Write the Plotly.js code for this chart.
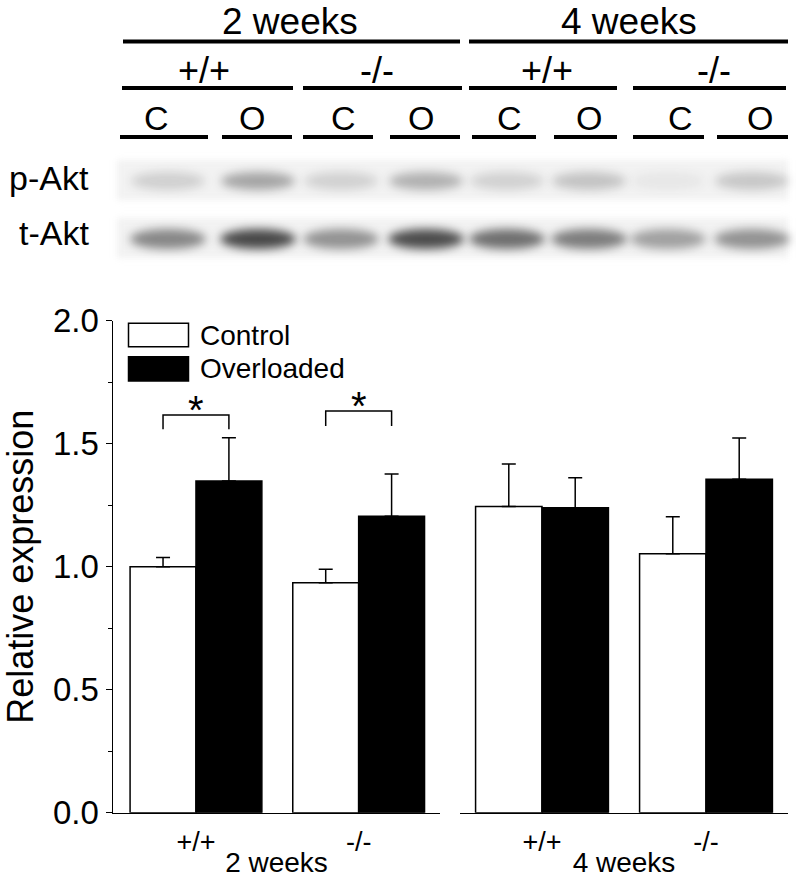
<!DOCTYPE html>
<html>
<head>
<meta charset="utf-8">
<script src="https://cdn.plot.ly/plotly-3.0.1.min.js"></script>
<style>html,body{margin:0;padding:0;background:#fff;}#chart{width:796px;height:878px;}</style>
</head>
<body>
<div id="chart"></div>
<script>
// ---------- data ----------
const genotypes = ['+/+', '-/-'];
const periods = ['2 weeks', '4 weeks'];
const seriesNames = ['Control', 'Overloaded'];
const control2w = [1.0, 0.935];
const control2wErr = [0.037, 0.055];
const overloaded2w = [1.348, 1.205];
const overloaded2wErr = [0.176, 0.172];
const control4w = [1.245, 1.053];
const control4wErr = [0.172, 0.150];
const overloaded4w = [1.240, 1.355];
const overloaded4wErr = [0.122, 0.168];
const yTickVals = [0, 0.5, 1.0, 1.5, 2.0];
const yTickText = ['0.0', '0.5', '1.0', '1.5', '2.0'];
// significance brackets (2 weeks panel): genotype index, bracket top value, leg bottom value
const sigGenotype = [0, 1];
const sigTop = [1.617, 1.633];
const sigLeg = [1.559, 1.572];
const sigLabel = ['*', '*'];
// western blot header
const blotLanes = ['C', 'O', 'C', 'O', 'C', 'O', 'C', 'O'];
const blotRows = ['p-Akt', 't-Akt'];
const pAktIntensity = [0.16, 0.36, 0.15, 0.30, 0.15, 0.22, 0.05, 0.20];
const tAktIntensity = [0.50, 0.80, 0.45, 0.78, 0.62, 0.55, 0.38, 0.45];

// ---------- helpers ----------
const W = 796, H = 878;
const px = x => x / W;
const py = y => 1 - y / H;
const FONT = 'Liberation Sans, Arial, Helvetica, sans-serif';
const bargap = 0.19;
const half = (1 - bargap) / 4; // bar-centre offset in category units

function zeros(a){ return a.map(() => 0); }

const barLine = {color: '#000', width: 1.5};
function errY(arr){
  return {type: 'data', symmetric: false, array: arr, arrayminus: zeros(arr),
          color: '#000', thickness: 1.5, width: 7};
}

const traces = [
  {type: 'bar', name: seriesNames[0], x: genotypes, y: control2w, xaxis: 'x', yaxis: 'y',
   marker: {color: '#fff', line: barLine}, error_y: errY(control2wErr), showlegend: false},
  {type: 'bar', name: seriesNames[1], x: genotypes, y: overloaded2w, xaxis: 'x', yaxis: 'y',
   marker: {color: '#000', line: barLine}, error_y: errY(overloaded2wErr), showlegend: false},
  {type: 'bar', name: seriesNames[0], x: genotypes, y: control4w, xaxis: 'x2', yaxis: 'y',
   marker: {color: '#fff', line: barLine}, error_y: errY(control4wErr), showlegend: false},
  {type: 'bar', name: seriesNames[1], x: genotypes, y: overloaded4w, xaxis: 'x2', yaxis: 'y',
   marker: {color: '#000', line: barLine}, error_y: errY(overloaded4wErr), showlegend: false}
];

const shapes = [];
const annotations = [];

// significance brackets
sigGenotype.forEach((g, i) => {
  const x0 = g - half, x1 = g + half;
  shapes.push({type: 'path', xref: 'x', yref: 'y',
    path: `M ${x0} ${sigLeg[i]} L ${x0} ${sigTop[i]} L ${x1} ${sigTop[i]} L ${x1} ${sigLeg[i]}`,
    line: {color: '#000', width: 1.5}});
  annotations.push({xref: 'x', yref: 'y', x: g, y: sigTop[i], yshift: -19, text: sigLabel[i],
    showarrow: false, xanchor: 'center', yanchor: 'bottom', font: {family: FONT, size: 40, color: '#000'}});
});

// custom legend
const legendBoxes = [[323.3, 346.7], [356.7, 381]];
const legendFill = ['#fff', '#000'];
seriesNames.forEach((n, i) => {
  shapes.push({type: 'rect', xref: 'paper', yref: 'paper', x0: px(128.5), x1: px(188.5),
    y0: py(legendBoxes[i][1]), y1: py(legendBoxes[i][0]), fillcolor: legendFill[i],
    line: {color: '#000', width: 1.5}});
  annotations.push({xref: 'paper', yref: 'paper', x: px(198), y: py((legendBoxes[i][0] + legendBoxes[i][1]) / 2),
    text: n, showarrow: false, xanchor: 'left', yanchor: 'middle', font: {family: FONT, size: 28, color: '#000'}});
});

// header lines and labels
function hline(x0, x1, y){
  shapes.push({type: 'line', xref: 'paper', yref: 'paper', x0: px(x0), x1: px(x1), y0: py(y), y1: py(y),
    line: {color: '#000', width: 4}});
}
function label(t, x, y, size, anchor){
  annotations.push({xref: 'paper', yref: 'paper', x: px(x), y: py(y), text: t, showarrow: false,
    xanchor: anchor || 'center', yanchor: 'middle', font: {family: FONT, size: size, color: '#000'}});
}
// period row
const periodSpans = [[123, 460], [469, 788]];
const periodCentres = [290, 629];
periods.forEach((p, i) => { hline(periodSpans[i][0], periodSpans[i][1], 41.5); label(p, periodCentres[i], 21, 37); });
// genotype row
const genoSpans = [[122, 293], [303, 462], [469, 617], [633, 786]];
const genoCentres = [204, 377, 547, 714];
genoSpans.forEach((s, i) => { hline(s[0], s[1], 88); label(genotypes[i % 2], genoCentres[i], 71, 36); });
// lane row
const laneSpans = [[120, 208], [222, 292], [303, 373], [390, 460], [472, 536], [554, 617], [633, 704], [717, 788]];
const laneCentres = [156, 252, 343, 421, 509, 589, 680, 760];
blotLanes.forEach((l, i) => { hline(laneSpans[i][0], laneSpans[i][1], 137); label(l, laneCentres[i], 118, 34); });
// blot row labels
label(blotRows[0], 91, 178, 34, 'right');
label(blotRows[1], 91, 233, 34, 'right');

// blot picture drawn on a canvas
const bandCentres = [168, 258, 341, 426, 507, 589, 668, 752];
const CY0 = 145, CH = 125;
const cv = document.createElement('canvas');
cv.width = W; cv.height = CH;
const ctx = cv.getContext('2d');
ctx.fillStyle = '#fff'; ctx.fillRect(0, 0, W, CH);
ctx.filter = 'blur(3px)';
ctx.fillStyle = 'rgba(230,230,230,0.5)';
ctx.fillRect(117, 160 - CY0, 671, 40);
ctx.fillRect(117, 218 - CY0, 671, 40);
ctx.filter = 'blur(5px)';
function band(cx, cy, w, h, a){
  ctx.fillStyle = `rgba(30,30,30,${a})`;
  ctx.beginPath();
  ctx.ellipse(cx, cy - CY0, w / 2, h / 2, 0, 0, Math.PI * 2);
  ctx.fill();
}
bandCentres.forEach((c, i) => {
  band(c, 181, 74, 18, pAktIntensity[i]);
  band(c, 239, 76, 20, tAktIntensity[i]);
});
const blotSrc = cv.toDataURL('image/png');

const layout = {
  width: W, height: H,
  margin: {l: 0, r: 0, t: 0, b: 0},
  paper_bgcolor: '#fff', plot_bgcolor: 'rgba(0,0,0,0)',
  barmode: 'group', bargap: bargap, bargroupgap: 0,
  showlegend: false,
  font: {family: FONT, color: '#000'},
  xaxis: {domain: [px(113), px(440)], anchor: 'y', type: 'category', range: [-0.51, 1.5],
    showline: true, linecolor: '#000', linewidth: 1.5, showgrid: false, zeroline: false,
    ticks: 'outside', ticklen: 4, tickcolor: 'rgba(0,0,0,0)', tickfont: {family: FONT, size: 27},
    title: {text: periods[0], font: {family: FONT, size: 28}, standoff: 0}, automargin: false},
  xaxis2: {domain: [px(460), px(788)], anchor: 'y', type: 'category', range: [-0.5, 1.5],
    showline: true, linecolor: '#000', linewidth: 1.5, showgrid: false, zeroline: false,
    ticks: 'outside', ticklen: 4, tickcolor: 'rgba(0,0,0,0)', tickfont: {family: FONT, size: 27},
    title: {text: periods[1], font: {family: FONT, size: 28}, standoff: 3}, automargin: false},
  yaxis: {domain: [py(812.7), py(320.7)], anchor: 'x', range: [0, 2],
    tickvals: yTickVals, ticktext: yTickText,
    showline: true, linecolor: '#000', linewidth: 1.5, showgrid: false, zeroline: false,
    ticks: 'outside', ticklen: 6, tickwidth: 1.5, tickcolor: '#000', tickfont: {family: FONT, size: 33},
    minor: {dtick: 0.25, ticks: 'outside', ticklen: 4, tickwidth: 1.2, tickcolor: '#000', showgrid: false},
    title: {text: 'Relative expression', font: {family: FONT, size: 36}, standoff: 8}, automargin: false},
  shapes: shapes,
  annotations: annotations,
  images: [{source: blotSrc, xref: 'paper', yref: 'paper', x: 0, y: py(CY0), sizex: 1, sizey: CH / H,
    sizing: 'stretch', xanchor: 'left', yanchor: 'top', layer: 'below'}]
};

Plotly.newPlot('chart', traces, layout, {displayModeBar: false, staticPlot: true});
</script>
</body>
</html>
